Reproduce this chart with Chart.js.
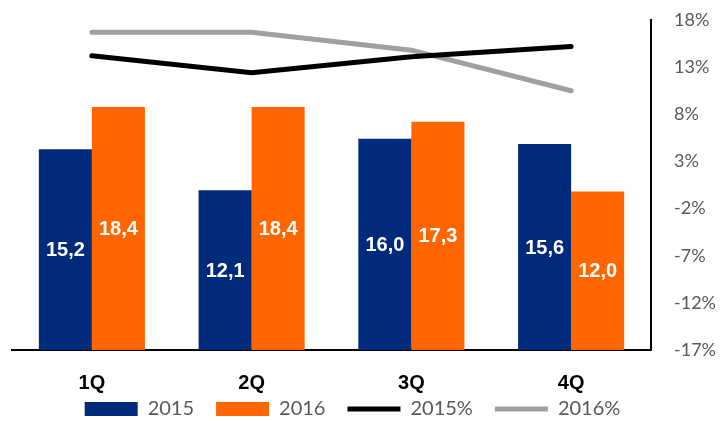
<!DOCTYPE html>
<html>
<head>
<meta charset="utf-8">
<script src="https://cdn.jsdelivr.net/npm/chart.js@4/dist/chart.umd.min.js"></script>
<style>
  html, body { margin: 0; padding: 0; background: #fff; }
  #wrap { width: 723px; height: 421px; }
</style>
</head>
<body>
<div id="wrap"><canvas id="quarterChart"></canvas></div>
<script>
// data
const quarters = ['1Q', '2Q', '3Q', '4Q'];
const sales2015 = [15.2, 12.1, 16.0, 15.6];
const sales2016 = [18.4, 18.4, 17.3, 12.0];
const growth2015 = [14.2, 12.4, 14.1, 15.2];
const growth2016 = [16.7, 16.7, 14.8, 10.5];

// white value labels in the middle of each bar + quarter names under the axis
const barLabels = {
    id: 'barLabels',
    afterDatasetsDraw(chart) {
        const ctx = chart.ctx;
        ctx.save();
        ctx.fillStyle = '#ffffff';
        ctx.font = 'bold 20px "Liberation Sans", Arial, sans-serif';
        ctx.textAlign = 'center';
        ctx.textBaseline = 'middle';
        chart.data.datasets.forEach((ds, i) => {
            if (ds.type !== 'bar') return;
            chart.getDatasetMeta(i).data.forEach((bar, j) => {
                const mid = (bar.y + bar.base) / 2;
                ctx.fillText(ds.data[j].toFixed(1).replace('.', ','), bar.x, mid + 1);
            });
        });
        // category labels (drawn here so the legend can sit close below them)
        const xScale = chart.scales.x;
        ctx.fillStyle = '#000000';
        chart.data.labels.forEach((lab, i) => {
            ctx.fillText(lab, xScale.getPixelForValue(i), chart.chartArea.bottom + 33);
        });
        ctx.restore();
    }
};

const chartData = {
    labels: quarters,
    datasets: [{
        type: 'bar',
        label: '2015',
        data: sales2015,
        backgroundColor: '#002A7A',
        borderWidth: 0,
        pointStyle: 'rect',
        yAxisID: 'y',
        order: 2
    }, {
        type: 'bar',
        label: '2016',
        data: sales2016,
        backgroundColor: '#FF6600',
        borderWidth: 0,
        pointStyle: 'rect',
        yAxisID: 'y',
        order: 2
    }, {
        type: 'line',
        label: '2015%',
        data: growth2015,
        borderColor: '#000000',
        backgroundColor: '#000000',
        borderWidth: 5,
        borderCapStyle: 'round',
        pointRadius: 0,
        pointStyle: 'line',
        tension: 0,
        yAxisID: 'y1',
        order: 1
    }, {
        type: 'line',
        label: '2016%',
        data: growth2016,
        borderColor: '#A0A0A0',
        backgroundColor: '#A0A0A0',
        borderWidth: 5,
        borderCapStyle: 'round',
        pointRadius: 0,
        pointStyle: 'line',
        tension: 0,
        yAxisID: 'y1',
        order: 1
    }]
};

const config = {
    data: chartData,
    plugins: [barLabels],
    options: {
        responsive: true,
        maintainAspectRatio: false,
        animation: false,
        // legend is full width, so the negative left padding centres it like the original
        layout: { padding: { left: -18, right: 0, top: 20, bottom: -8 } },
        datasets: {
            bar: { categoryPercentage: 0.664, barPercentage: 1.0 }
        },
        plugins: {
            tooltip: { enabled: false },
            legend: {
                position: 'bottom',
                labels: {
                    usePointStyle: true,
                    pointStyleWidth: 53,
                    boxWidth: 53,
                    boxHeight: 14,
                    padding: 22,
                    color: '#595959',
                    font: { family: 'Lato, "Open Sans", sans-serif', size: 20 },
                    sort: (a, b) => a.datasetIndex - b.datasetIndex
                }
            }
        },
        scales: {
            x: {
                grid: { display: false },
                border: { display: true, color: '#000000', width: 2 },
                ticks: { display: false },
                afterFit(scale) { scale.height = 27; }
            },
            y: {
                min: 0,
                max: 25,
                grid: { display: false },
                border: { display: false },
                ticks: { display: false },
                afterFit(scale) { scale.width = 30; }
            },
            y1: {
                position: 'right',
                min: -17,
                max: 18,
                // invisible tick marks push the labels away from the axis line
                grid: { drawOnChartArea: false, tickLength: 19, color: 'rgba(0,0,0,0)' },
                border: { display: true, color: '#000000', width: 2 },
                ticks: {
                    stepSize: 5,
                    padding: 4,
                    color: '#595959',
                    font: { family: 'Lato, "Open Sans", sans-serif', size: 18 },
                    callback: (v) => v + '%'
                },
                afterFit(scale) { scale.width = 72; }
            }
        }
    }
};

const quarterChart = new Chart(
    document.getElementById('quarterChart'),
    config
);
</script>
</body>
</html>
